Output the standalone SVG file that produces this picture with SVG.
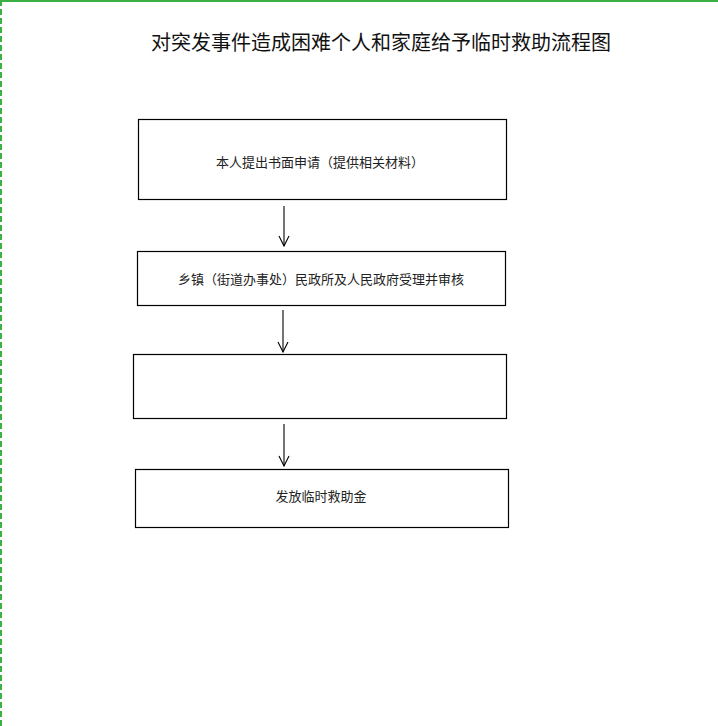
<svg xmlns="http://www.w3.org/2000/svg" width="718" height="726" viewBox="0 0 718 726">
<defs>
<style>
.box{fill:#fff;stroke:#000;stroke-width:1.2}
.t{font-family:"Noto Sans CJK SC","Noto Sans CJK JP",sans-serif;font-size:13px;fill:#222;text-anchor:middle}
.title{font-family:"Noto Sans CJK SC","Noto Sans CJK JP",sans-serif;font-size:20px;fill:#111;text-anchor:middle}
.c{stroke:#000;stroke-width:1.1;fill:none}
</style>
<marker id="ah" markerWidth="12" markerHeight="12" refX="11" refY="6" orient="auto" markerUnits="userSpaceOnUse" viewBox="0 0 12 12">
<path d="M1,1 L11,6 L1,11" fill="none" stroke="#000" stroke-width="1.1"/>
</marker>
</defs>
<rect x="0" y="0" width="718" height="726" fill="#fff"/>
<line x1="0" y1="1" x2="718" y2="1" stroke="#3cb043" stroke-width="2"/>
<line x1="1" y1="0" x2="1" y2="726" stroke="#3cb043" stroke-width="2" stroke-dasharray="6,3"/>
<text class="title" x="381" y="50">对突发事件造成困难个人和家庭给予临时救助流程图</text>
<g id="n1">
<rect class="box" x="138.5" y="119.5" width="368" height="80"/>
<text class="t" x="320" y="167">本人提出书面申请（提供相关材料）</text>
</g>
<g id="n2">
<rect class="box" x="137.5" y="251.5" width="368" height="54"/>
<text class="t" x="321" y="284">乡镇（街道办事处）民政所及人民政府受理并审核</text>
</g>
<g id="n3">
<rect class="box" x="133.5" y="354.5" width="373" height="64"/>
</g>
<g id="n4">
<rect class="box" x="135.5" y="469.5" width="373" height="58"/>
<text class="t" x="321" y="501">发放临时救助金</text>
</g>
<g id="connectors">
<line class="c" x1="284" y1="206" x2="284" y2="246" marker-end="url(#ah)"/>
<line class="c" x1="283" y1="310" x2="283" y2="352" marker-end="url(#ah)"/>
<line class="c" x1="284" y1="424" x2="284" y2="466" marker-end="url(#ah)"/>
</g>
</svg>
